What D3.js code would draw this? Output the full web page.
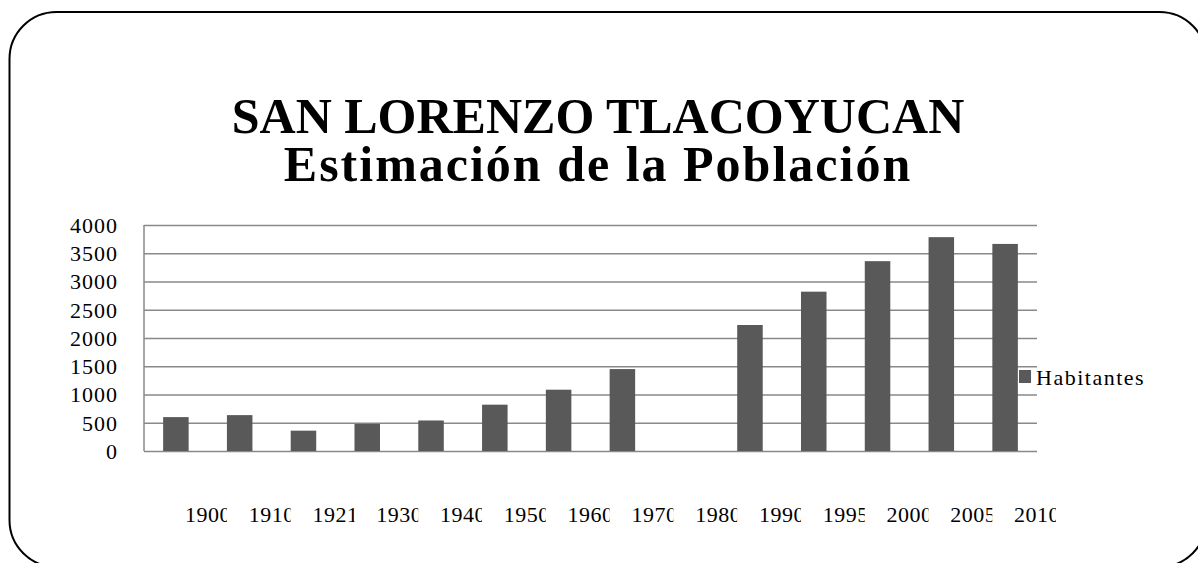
<!DOCTYPE html>
<html>
<head>
<meta charset="utf-8">
<script src="https://cdn.jsdelivr.net/npm/d3@7"></script>
<style>
    body { margin: 0; background: #fff; }
    svg { display: block; }
</style>
</head>
<body>
<div id="chart-area"></div>
<script>
const years = ["1900", "1910", "1921", "1930", "1940", "1950", "1960", "1970", "1980", "1990", "1995", "2000", "2005", "2010"];
const habitantes = [600, 635, 360, 480, 540, 820, 1085, 1450, null, 2230, 2820, 3360, 3785, 3665];
const yTicks = [0, 500, 1000, 1500, 2000, 2500, 3000, 3500, 4000];
const titleLines = ["SAN LORENZO TLACOYUCAN", "Estimación de la Población"];
const seriesName = "Habitantes";

const data = years.map((y, i) => ({ year: y, value: habitantes[i] }));

const config = {
    width: 1198,
    height: 563,
    margin: { left: 144, right: 161, top: 225, bottom: 112 }
};
config.chartWidth = config.width - config.margin.left - config.margin.right;
config.chartHeight = config.height - config.margin.top - config.margin.bottom;

const serif = "'Liberation Serif', 'Times New Roman', serif";

const svg = d3.select('#chart-area')
    .append('svg')
    .attr("width", config.width)
    .attr("height", config.height);

// rounded frame, runs past the right and bottom edges
svg.append('rect')
    .attr('x', 9.5)
    .attr('y', 12)
    .attr('width', 1197)
    .attr('height', 555)
    .attr('rx', 47)
    .attr('ry', 47)
    .attr('fill', 'none')
    .attr('stroke', '#000')
    .attr('stroke-width', 2);

const title = svg.append('text')
    .attr('text-anchor', 'middle')
    .attr('font-family', serif)
    .attr('font-weight', 'bold')
    .attr('font-size', '50px')
    .style('fill', '#000');
title.append('tspan').attr('x', 598).attr('y', 133).text(titleLines[0]);
title.append('tspan').attr('x', 598).attr('y', 181).attr('letter-spacing', '2px').text(titleLines[1]);

const g = svg.append('g')
    .attr("transform", `translate(${config.margin.left}, ${config.margin.top})`);

const xScale = d3.scaleBand()
    .domain(years)
    .range([0, config.chartWidth])
    .paddingInner(0.6)
    .paddingOuter(0.3);

const yScale = d3.scaleLinear()
    .domain([0, 4000])
    .range([config.chartHeight, 0]);

// gridlines + y labels
const yAxis = d3.axisLeft(yScale)
    .tickValues(yTicks)
    .tickSize(-config.chartWidth)
    .tickPadding(26)
    .tickFormat(d3.format("d"));

const yAxisGroup = g.append('g')
    .attr('class', 'y axis')
    .call(yAxis);
yAxisGroup.select('.domain').remove();
yAxisGroup.selectAll('.tick line')
    .attr('stroke', '#898989')
    .attr('stroke-width', 1.5);
yAxisGroup.selectAll('text')
    .attr('font-family', serif)
    .attr('font-size', '22px')
    .attr('letter-spacing', '1px')
    .attr('dy', '0.34em')
    .style('fill', '#000');

// left axis line
g.append('line')
    .attr('x1', 0).attr('x2', 0)
    .attr('y1', 0).attr('y2', config.chartHeight)
    .attr('stroke', '#898989')
    .attr('stroke-width', 1.5);

g.selectAll('rect.bar')
    .data(data.filter(d => d.value != null))
    .enter().append('rect')
    .attr('class', 'bar')
    .attr('x', d => xScale(d.year))
    .attr('y', d => yScale(d.value))
    .attr('width', xScale.bandwidth())
    .attr('height', d => config.chartHeight - yScale(d.value))
    .attr('fill', '#595959');

// category labels, clipped like the original
const defs = svg.append('defs');
const labelX = d => xScale(d) + xScale.bandwidth() / 2 + 9;
years.forEach((y, i) => {
    defs.append('clipPath')
        .attr('id', 'clip-' + i)
        .append('rect')
        .attr('x', labelX(y))
        .attr('y', 270)
        .attr('width', 42)
        .attr('height', 40);
});

g.selectAll('text.xlab')
    .data(years)
    .enter().append('text')
    .attr('class', 'xlab')
    .attr('x', d => labelX(d))
    .attr('y', 297)
    .attr('clip-path', (d, i) => `url(#clip-${i})`)
    .attr('font-family', serif)
    .attr('font-size', '22px')
    .attr('letter-spacing', '0.5px')
    .style('fill', '#000')
    .text(d => d);

// legend
const legend = svg.append('g')
    .attr('transform', 'translate(1019, 370)');
legend.append('rect')
    .attr('width', 12)
    .attr('height', 13)
    .attr('fill', '#595959');
legend.append('text')
    .attr('x', 17)
    .attr('y', 15)
    .attr('font-family', serif)
    .attr('font-size', '22px')
    .attr('letter-spacing', '1.5px')
    .style('fill', '#000')
    .text(seriesName);
</script>
</body>
</html>
